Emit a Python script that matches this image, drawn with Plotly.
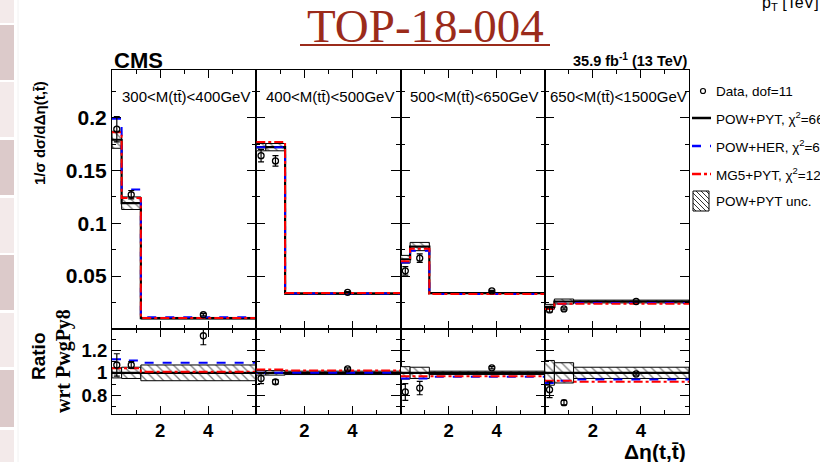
import plotly.graph_objects as go

# ---------------------------------------------------------------- data
deta_edges = [0.0, 0.4, 1.2, 6.0]
data_x = [0.2, 0.8, 3.8]
mass_labels = ["300&lt;M(tt\u0304)&lt;400GeV", "400&lt;M(tt\u0304)&lt;500GeV",
               "500&lt;M(tt\u0304)&lt;650GeV", "650&lt;M(tt\u0304)&lt;1500GeV"]

# normalised cross sections, one list per M(tt) bin
pow_pyt = [[0.179, 0.119, 0.0102], [0.172, 0.172, 0.0335],
           [0.066, 0.078, 0.034], [0.021, 0.026, 0.026]]
pow_her = [[0.199, 0.132, 0.0110], [0.172, 0.172, 0.0335],
           [0.063, 0.074, 0.033], [0.019, 0.024, 0.0245]]
mg5_pyt = [[0.186, 0.124, 0.0103], [0.177, 0.177, 0.034],
           [0.064, 0.076, 0.033], [0.019, 0.024, 0.024]]
data_val = [[0.189, 0.127, 0.0135], [0.164, 0.159, 0.0347],
            [0.055, 0.067, 0.036], [0.018, 0.019, 0.026]]
data_err = [[0.012, 0.004, 0.001], [0.006, 0.005, 0.0006],
            [0.004, 0.004, 0.0006], [0.002, 0.001, 0.0005]]
# relative theory uncertainty of POW+PYT
pow_unc = [[0.045, 0.05, 0.07], [0.02, 0.02, 0.015],
           [0.055, 0.05, 0.015], [0.11, 0.09, 0.05]]

# ratios with respect to POW+PYT
ratio_her = [[1.12, 1.11, 1.09], [1.0, 1.0, 1.0],
             [0.95, 0.95, 0.965], [0.91, 0.93, 0.94]]
ratio_mg5 = [[1.04, 1.04, 1.01], [1.03, 1.03, 1.02],
             [0.97, 0.97, 0.97], [0.93, 0.93, 0.92]]
ratio_data = [[1.07, 1.07, 1.33], [0.95, 0.92, 1.035],
              [0.83, 0.865, 1.045], [0.85, 0.735, 0.99]]
ratio_data_err = [[0.10, 0.03, 0.08], [0.045, 0.02, 0.01],
                  [0.075, 0.06, 0.01], [0.07, 0.02, 0.01]]

legend_names = ["Data, dof=11", "POW+PYT, \u03c7<sup>2</sup>=66",
                "POW+HER, \u03c7<sup>2</sup>=68", "MG5+PYT, \u03c7<sup>2</sup>=124",
                "POW+PYT unc."]

# ---------------------------------------------------------------- geometry
W, H = 820, 462
L, R = 112, 689
TOP, MID, BOT = 70, 329, 414
pw = (R - L) / 4


def px(x):
    return x / W


def py(y):
    return 1 - y / H


centers = [(a + b) / 2 for a, b in zip(deta_edges[:-1], deta_edges[1:])]
widths = [b - a for a, b in zip(deta_edges[:-1], deta_edges[1:])]

BLUE = "#0000ff"
RED = "#ff0000"
FONT = "Liberation Sans"

fig = go.Figure()


def band(lo, hi, xa, ya):
    fig.add_trace(go.Bar(
        x=centers, y=[h - l for l, h in zip(lo, hi)], base=lo, width=widths,
        xaxis=xa, yaxis=ya, showlegend=False, hoverinfo="skip",
        marker=dict(color="white", line=dict(color="black", width=1),
                    pattern=dict(shape="\\", fgcolor="black", bgcolor="white",
                                 size=6, solidity=0.22))))


def step(vals, xa, ya, color, dash, width=2):
    fig.add_trace(go.Scatter(
        x=deta_edges, y=list(vals) + [vals[-1]], mode="lines", line_shape="hv",
        line=dict(color=color, dash=dash, width=width),
        xaxis=xa, yaxis=ya, showlegend=False, hoverinfo="skip"))


def points(vals, errs, xa, ya):
    fig.add_trace(go.Scatter(
        x=data_x, y=vals, mode="markers",
        marker=dict(symbol="circle-open", size=6, color="black",
                    line=dict(width=1.3, color="black")),
        error_y=dict(type="data", array=errs, color="black", thickness=1.2, width=3),
        xaxis=xa, yaxis=ya, showlegend=False, hoverinfo="skip"))


layout_axes = {}
axis_common = dict(showline=True, linecolor="black", linewidth=1.2, mirror="allticks",
                   ticks="inside", tickcolor="black", showgrid=False, zeroline=False)
main_tick_font = dict(family=FONT, size=21, color="black", weight="bold")
ratio_tick_font = dict(family=FONT, size=18.5, color="black", weight="bold")

for i in range(4):
    m, r = i + 1, i + 5
    xm, ym = f"x{m}", f"y{m}"
    xr, yr = f"x{r}", f"y{r}"
    dom = [px(L + i * pw), px(L + (i + 1) * pw)]

    # main panel
    lo = [v * (1 - u) for v, u in zip(pow_pyt[i], pow_unc[i])]
    hi = [v * (1 + u) for v, u in zip(pow_pyt[i], pow_unc[i])]
    band(lo, hi, xm, ym)
    step(pow_pyt[i], xm, ym, "black", "solid", 2.2)
    step(pow_her[i], xm, ym, BLUE, "dash")
    step(mg5_pyt[i], xm, ym, RED, "dashdot")
    points(data_val[i], data_err[i], xm, ym)

    # ratio panel
    band([1 - u for u in pow_unc[i]], [1 + u for u in pow_unc[i]], xr, yr)
    step([1.0, 1.0, 1.0], xr, yr, "black", "solid", 2.2)
    step(ratio_her[i], xr, yr, BLUE, "dash")
    step(ratio_mg5[i], xr, yr, RED, "dashdot")
    points(ratio_data[i], ratio_data_err[i], xr, yr)

    sfx_m = "" if m == 1 else str(m)
    sfx_r = str(r)
    layout_axes["xaxis" + sfx_m] = dict(
        axis_common, domain=dom, anchor=ym, range=[0, 6], tickvals=[2, 4],
        ticklen=8, showticklabels=False,
        minor=dict(tickvals=[1, 3, 5], ticklen=4, ticks="inside", tickcolor="black"))
    layout_axes["yaxis" + sfx_m] = dict(
        axis_common, domain=[py(MID), py(TOP)], anchor=xm, range=[0, 0.245],
        tickvals=[0.05, 0.1, 0.15, 0.2], ticktext=["0.05", "0.1", "0.15", "0.2"],
        ticklen=9, showticklabels=(i == 0), tickfont=main_tick_font,
        minor=dict(tickvals=[0.025, 0.075, 0.125, 0.175, 0.225], ticklen=4,
                   ticks="inside", tickcolor="black"))
    layout_axes["xaxis" + sfx_r] = dict(
        axis_common, domain=dom, anchor=yr, range=[0, 6], tickvals=[2, 4],
        ticklen=8, tickfont=ratio_tick_font,
        minor=dict(tickvals=[1, 3, 5], ticklen=4, ticks="inside", tickcolor="black"))
    layout_axes["yaxis" + sfx_r] = dict(
        axis_common, domain=[py(BOT), py(MID)], anchor=xr, range=[0.634, 1.39],
        tickvals=[0.8, 1.0, 1.2], ticktext=["0.8", "1", "1.2"],
        ticklen=9, showticklabels=(i == 0), tickfont=ratio_tick_font,
        minor=dict(tickvals=[0.7, 0.9, 1.1, 1.3], ticklen=4, ticks="inside",
                   tickcolor="black"))

annotations = []
shapes = []


def text(x, y, s, size, xanchor="center", yanchor="middle", angle=0,
         family=FONT, color="black", weight="normal"):
    annotations.append(dict(
        x=px(x), y=py(y), xref="paper", yref="paper", text=s, showarrow=False,
        xanchor=xanchor, yanchor=yanchor, textangle=angle,
        font=dict(family=family, size=size, color=color, weight=weight)))


# slide side strip
strip = [(0, 23, "#f3eaea"), (25, 80, "#dccaca"), (82, 137, "#f3eaea"),
         (140, 195, "#dccaca"), (198, 253, "#f3eaea"), (255, 310, "#dccaca"),
         (313, 367, "#f3eaea"), (370, 427, "#dccaca"), (430, 462, "#f3eaea")]
for y0, y1, c in strip:
    shapes.append(dict(type="rect", xref="paper", yref="paper", x0=0, x1=px(14),
                       y0=py(y1), y1=py(y0), fillcolor=c, line=dict(width=0),
                       layer="below"))
shapes.append(dict(type="line", xref="paper", yref="paper", x0=px(18), x1=px(18),
                   y0=0, y1=1, line=dict(color="#f2f2f2", width=1)))

# slide title
text(425, 26, "TOP-18-004", 47, family="Liberation Serif", color="#9b2b1b")
shapes.append(dict(type="line", xref="paper", yref="paper", x0=px(300), x1=px(550),
                   y0=py(45), y1=py(45), line=dict(color="#9b2b1b", width=2)))
text(760, 15, "p<sub>T</sub> [TeV]", 16, xanchor="left", yanchor="bottom")

# figure labels
text(L, 60, "CMS", 22, xanchor="left", weight="bold")
text(R, 60, "35.9 fb<sup>-1</sup> (13 TeV)", 14.5, xanchor="right", weight="bold")
for i, lab in enumerate(mass_labels):
    text(L + i * pw + 74, 97, lab, 15)
text(40, 133, "1/\u03c3 d\u03c3/d\u0394\u03b7(t,t\u0304)", 15, angle=-90, weight="bold")
text(38, 356, "Ratio", 19, angle=-90, weight="bold")
text(63, 361, "wrt PwgPy8", 20, angle=-90, family="Liberation Serif", weight="bold")
text(688, 451, "\u0394\u03b7(t,t\u0304)", 21, xanchor="right", weight="bold")

# legend
text(714, 91, legend_names[0], 13.5, xanchor="left")
shapes.append(dict(type="circle", xref="paper", yref="paper", x0=px(700.5), x1=px(705.5),
                   y0=py(93.5), y1=py(88.5), line=dict(color="black", width=1.2)))
for k, (col, dash) in enumerate([("black", "solid"), (BLUE, "dash"), (RED, "dashdot")]):
    yy = 118 + 28 * k
    shapes.append(dict(type="line", xref="paper", yref="paper", x0=px(692), x1=px(711),
                       y0=py(yy), y1=py(yy), line=dict(color=col, width=2.5, dash=dash)))
    text(714, yy, legend_names[k + 1], 13.5, xanchor="left")
bx0, bx1, by0, by1 = 693, 709, 191, 211
shapes.append(dict(type="rect", xref="paper", yref="paper", x0=px(bx0), x1=px(bx1),
                   y0=py(by1), y1=py(by0), line=dict(color="black", width=1)))
c = by0 - bx1 + 3
while c < by1 - bx0:
    # hatch stroke along y - x = c (screen pixels), clipped to the box
    xa0 = max(bx0, by0 - c)
    xa1 = min(bx1, by1 - c)
    if xa1 - xa0 > 0.5:
        shapes.append(dict(type="line", xref="paper", yref="paper",
                           x0=px(xa0), y0=py(xa0 + c), x1=px(xa1), y1=py(xa1 + c),
                           line=dict(color="black", width=0.8)))
    c += 5
text(714, 201, legend_names[4], 13.5, xanchor="left")

fig.update_layout(
    width=W, height=H, margin=dict(l=0, r=0, t=0, b=0),
    paper_bgcolor="white", plot_bgcolor="white", barmode="overlay",
    showlegend=False, annotations=annotations, shapes=shapes, **layout_axes)

fig.write_html("out.html")
